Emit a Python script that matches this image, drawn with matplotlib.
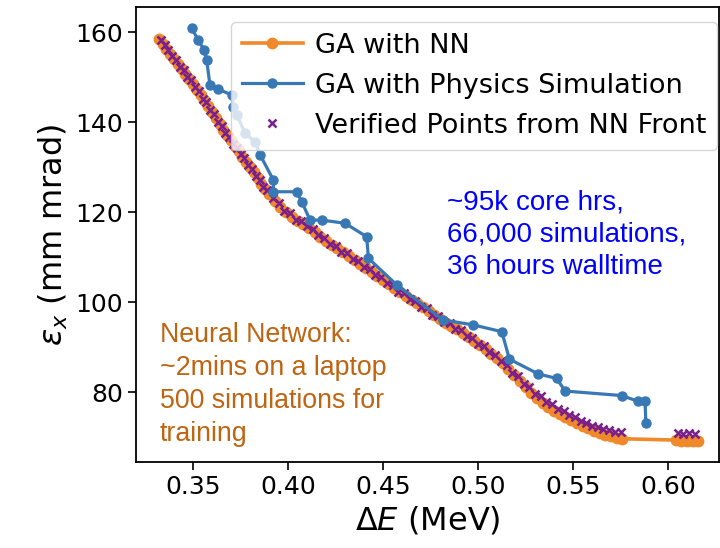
import numpy as np
import matplotlib
matplotlib.use("Agg")
import matplotlib.pyplot as plt

# GA with NN front (orange)
nn_de = [0.332, 0.334, 0.336, 0.338, 0.340, 0.342, 0.344, 0.346, 0.348, 0.350,
         0.352, 0.354, 0.356, 0.358, 0.360, 0.362, 0.364, 0.366, 0.368, 0.370,
         0.372, 0.374, 0.376, 0.378, 0.380, 0.382, 0.384, 0.386, 0.388, 0.390,
         0.393, 0.396, 0.399, 0.402, 0.405, 0.408, 0.411, 0.414, 0.417, 0.420,
         0.423, 0.426, 0.429, 0.432, 0.435, 0.438, 0.441, 0.444, 0.447, 0.450,
         0.453, 0.456, 0.459, 0.462, 0.465, 0.468, 0.471, 0.474, 0.477, 0.480,
         0.483, 0.486, 0.489, 0.492, 0.495, 0.498, 0.501, 0.504, 0.507, 0.510,
         0.513, 0.516, 0.519, 0.522, 0.525, 0.528, 0.531, 0.534, 0.537, 0.540,
         0.543, 0.546, 0.549, 0.552, 0.555, 0.558, 0.561, 0.564, 0.567, 0.570,
         0.573, 0.576, 0.604, 0.607, 0.610, 0.613, 0.616]
nn_eps = [158.5, 157.5, 156.4, 155.3, 154.2, 153.0, 151.9, 150.8, 149.7, 148.5,
          147.3, 146.1, 144.9, 143.6, 142.3, 141.0, 139.7, 138.4, 137.2, 136.0,
          134.8, 133.6, 132.4, 131.3, 130.1, 128.9, 127.6, 126.4, 125.2, 124.0,
          122.5, 121.2, 120.1, 119.0, 118.2, 117.5, 116.6, 115.6, 114.6, 113.6,
          112.8, 112.0, 111.2, 110.3, 109.4, 108.5, 107.6, 106.8, 105.9, 105.0,
          104.1, 103.2, 102.3, 101.5, 100.6, 99.8, 98.9, 98.1, 97.2, 96.3,
          95.5, 94.8, 94.0, 93.2, 92.3, 91.4, 90.5, 89.6, 88.6, 87.6,
          86.6, 85.3, 83.9, 82.5, 81.1, 79.8, 78.7, 77.6, 76.7, 75.9,
          75.2, 74.5, 73.9, 73.3, 72.6, 72.0, 71.5, 71.0, 70.6, 70.2,
          69.9, 69.7, 69.4, 69.3, 69.2, 69.2, 69.1]

# GA with physics simulation front (blue)
sim_de = [0.3493, 0.3528, 0.3558, 0.3572, 0.3589, 0.3633, 0.3704, 0.3712,
          0.3730, 0.3774, 0.3826, 0.3853, 0.3923, 0.3923, 0.4046, 0.4072,
          0.4116, 0.4177, 0.4300, 0.4414, 0.4423, 0.4572, 0.4817, 0.4975,
          0.5125, 0.5165, 0.5317, 0.5414, 0.5458, 0.5756, 0.5844, 0.5879,
          0.5883]
sim_eps = [160.9, 158.3, 156.1, 153.9, 148.3, 147.4, 146.1, 143.5,
           141.7, 137.6, 135.7, 132.8, 127.2, 124.6, 124.6, 122.4,
           118.3, 118.3, 117.6, 114.6, 109.8, 103.9, 96.1, 95.0,
           93.5, 87.4, 84.1, 83.1, 80.3, 79.3, 78.0, 78.0,
           73.3]

# verified points from NN front (purple crosses)
ver_de = [0.333, 0.335, 0.337, 0.339, 0.341, 0.343, 0.345, 0.347, 0.349, 0.351,
          0.353, 0.355, 0.357, 0.359, 0.361, 0.363, 0.365, 0.367, 0.369, 0.371,
          0.373, 0.375, 0.377, 0.379, 0.381, 0.383, 0.385, 0.387, 0.389, 0.392,
          0.395, 0.398, 0.401, 0.404, 0.407, 0.410, 0.413, 0.416, 0.419, 0.422,
          0.425, 0.428, 0.431, 0.434, 0.437, 0.440, 0.443, 0.446, 0.449, 0.452,
          0.455, 0.458, 0.461, 0.464, 0.467, 0.470, 0.473, 0.476, 0.479, 0.482,
          0.485, 0.488, 0.491, 0.494, 0.497, 0.500, 0.503, 0.506, 0.509, 0.512,
          0.515, 0.518, 0.521, 0.524, 0.527, 0.530, 0.533, 0.536, 0.539, 0.542,
          0.545, 0.548, 0.551, 0.554, 0.557, 0.560, 0.563, 0.566, 0.569, 0.572,
          0.575, 0.605, 0.608, 0.611, 0.614]
ver_eps = [158.3, 157.2, 156.0, 154.7, 153.8, 152.3, 151.6, 150.2, 149.4, 147.8,
           146.9, 145.3, 144.5, 142.8, 141.9, 140.2, 139.3, 137.7, 136.8, 135.2,
           134.4, 132.9, 132.0, 130.5, 129.7, 128.1, 127.3, 125.7, 124.9, 123.1,
           122.0, 120.4, 119.8, 118.4, 118.1, 116.9, 116.3, 114.9, 114.3, 112.9,
           112.5, 111.3, 111.0, 109.6, 109.1, 107.8, 107.4, 106.0, 105.6, 104.3,
           103.8, 102.4, 102.0, 100.8, 100.3, 99.0, 98.7, 97.3, 96.9, 95.6,
           95.5, 94.1, 93.8, 92.5, 92.2, 90.7, 90.3, 88.9, 88.4, 86.9,
           86.1, 84.3, 83.6, 81.9, 81.3, 79.7, 79.2, 77.9, 77.5, 76.3,
           75.9, 74.9, 74.5, 73.6, 73.3, 72.5, 72.3, 71.8, 71.6, 71.3,
           71.2, 70.9, 70.8, 70.9, 70.8]

x_ticks = [0.35, 0.40, 0.45, 0.50, 0.55, 0.60]
y_ticks = [80, 100, 120, 140, 160]

c_nn = '#f0892a'
c_sim = '#3878b4'
c_ver = '#7a1f8c'

fig = plt.figure(figsize=(7.2, 5.48), dpi=100)
ax = fig.add_axes([0.1889, 0.1575, 0.8097, 0.8292])

l_nn, = ax.plot(nn_de, nn_eps, '-o', color=c_nn, lw=2.6, ms=7.5, zorder=2,
                label='GA with NN')
l_ver, = ax.plot(ver_de, ver_eps, 'x', color=c_ver, ms=6, mew=1.8, zorder=3,
                 label='Verified Points from NN Front')
l_sim, = ax.plot(sim_de, sim_eps, '-o', color=c_sim, lw=2.3, ms=6.5, zorder=4,
                 label='GA with Physics Simulation')

ax.set_xlim(0.32, 0.6268)
ax.set_ylim(64.6, 165.6)
ax.set_xticks(x_ticks)
ax.set_xticklabels(['%.2f' % t for t in x_ticks])
ax.set_yticks(y_ticks)
ax.tick_params(labelsize=18, length=6, width=1.2)
for s in ax.spines.values():
    s.set_linewidth(1.3)

ax.set_xlabel(r'$\Delta E$ (MeV)', fontsize=23)
ax.set_ylabel(r'$\epsilon_x$ (mm mrad)', fontsize=23)

ax.legend(handles=[l_nn, l_sim, l_ver], loc='upper right',
          bbox_to_anchor=(0.9966, 0.968), borderaxespad=0, fontsize=19.5,
          handlelength=2.25, handletextpad=0.45, labelspacing=0.52)

ax.text(0.533, 0.599, '~95k core hrs,\n66,000 simulations,\n36 hours walltime',
        transform=ax.transAxes, color='#0000ff', fontsize=20,
        family='Liberation Sans', va='top', ha='left', linespacing=1.3)
ax.text(0.041, 0.308, 'Neural Network:\n~2mins on a laptop\n500 simulations for\ntraining',
        transform=ax.transAxes, color='#bf6410', fontsize=19.3,
        family='Liberation Sans', va='top', ha='left', linespacing=1.35)

fig.savefig('out.png', dpi=100)
